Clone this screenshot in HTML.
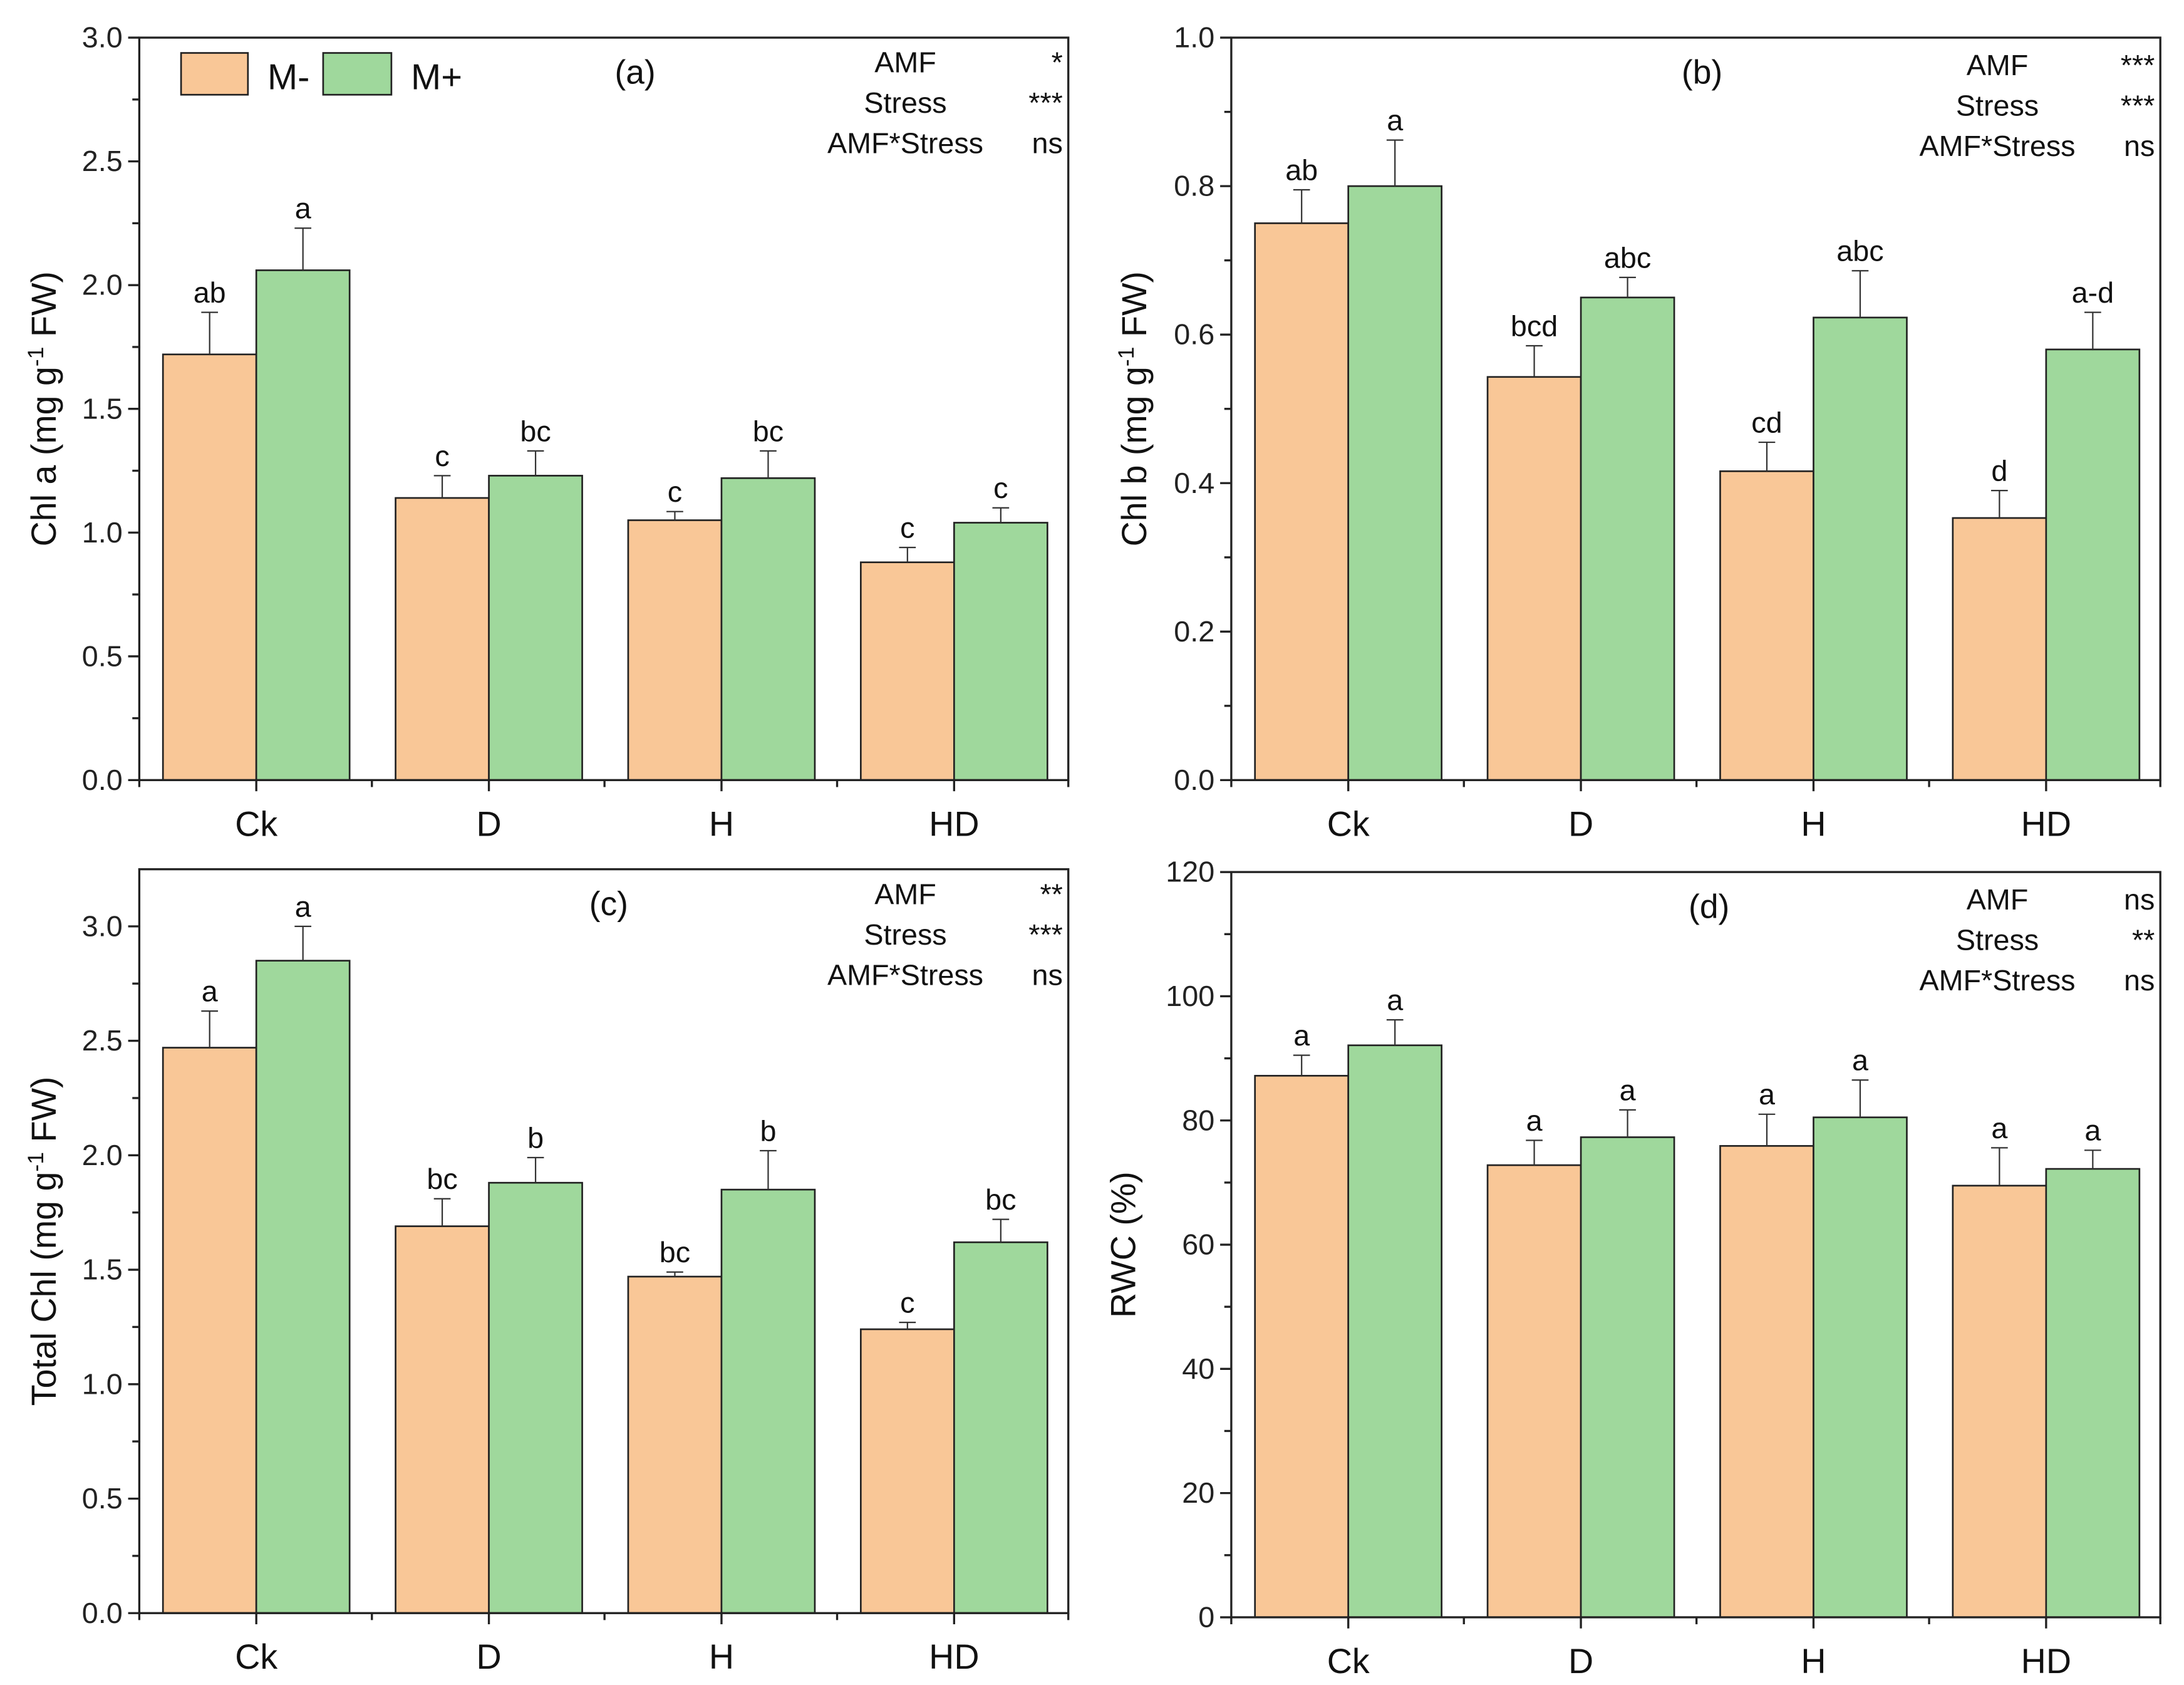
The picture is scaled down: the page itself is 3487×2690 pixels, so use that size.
<!DOCTYPE html>
<html><head><meta charset="utf-8"><style>html,body{margin:0;padding:0;background:#fff}svg{display:block}</style></head>
<body>
<svg id="fig" xmlns="http://www.w3.org/2000/svg" width="3487" height="2690" viewBox="0 0 1568 1209.6" font-family="Liberation Sans, Arial, sans-serif"></svg>
<script>
const categories = ["Ck","D","H","HD"];
const aMinus = [1.72,1.14,1.05,0.88];
const aMinusErr = [0.17,0.09,0.035,0.06];
const aPlus = [2.06,1.23,1.22,1.04];
const aPlusErr = [0.17,0.10,0.11,0.06];
const aMinusLetters = ["ab","c","c","c"];
const aPlusLetters = ["a","bc","bc","c"];
const bMinus = [0.75,0.543,0.416,0.353];
const bMinusErr = [0.045,0.042,0.039,0.037];
const bPlus = [0.80,0.65,0.623,0.58];
const bPlusErr = [0.062,0.027,0.063,0.05];
const bMinusLetters = ["ab","bcd","cd","d"];
const bPlusLetters = ["a","abc","abc","a-d"];
const cMinus = [2.47,1.69,1.47,1.24];
const cMinusErr = [0.16,0.12,0.02,0.03];
const cPlus = [2.85,1.88,1.85,1.62];
const cPlusErr = [0.15,0.11,0.17,0.10];
const cMinusLetters = ["a","bc","bc","c"];
const cPlusLetters = ["a","b","b","bc"];
const dMinus = [87.2,72.8,75.9,69.5];
const dMinusErr = [3.3,4.0,5.1,6.1];
const dPlus = [92.1,77.3,80.5,72.2];
const dPlusErr = [4.1,4.4,6.0,3.0];
const dMinusLetters = ["a","a","a","a"];
const dPlusLetters = ["a","a","a","a"];
const aTicks = ["0.0","0.5","1.0","1.5","2.0","2.5","3.0"];
const bTicks = ["0.0","0.2","0.4","0.6","0.8","1.0"];
const cTicks = ["0.0","0.5","1.0","1.5","2.0","2.5","3.0"];
const dTicks = ["0","20","40","60","80","100","120"];
const aStats = ["*","***","ns"];
const bStats = ["***","***","ns"];
const cStats = ["**","***","ns"];
const dStats = ["ns","**","ns"];

const NS="http://www.w3.org/2000/svg";
const svg=document.getElementById('fig');
function mk(tag,attrs,parent,text){const e=document.createElementNS(NS,tag);for(const k in attrs)e.setAttribute(k,attrs[k]);if(text!==undefined)e.textContent=text;(parent||svg).appendChild(e);return e;}

function panel(o){
  const g=mk('g',{});
  
  
  const L=o.left,R=o.left+667,T=o.top,B=o.bottom;
  const yy=v=>B+(o.y1-B)*(v/o.tickMax);
  const step=167;
  const cx=i=>L+84+i*step;
  const bw=67;
  for(let i=0;i<categories.length;i++){
    [[o.minus,o.minusErr,o.minusLetters,'#f9c797',-bw,'m-minus'],[o.plus,o.plusErr,o.plusLetters,'#9fd89c',0,'m-plus']].forEach(s=>{
      const v=s[0][i],e=s[1][i];
      const x0=cx(i)+s[4];
      const r=mk('rect',{x:x0,y:yy(v),width:bw,height:B-yy(v),fill:s[3],stroke:'#222','stroke-width':1.2},g);
      
      
      const xc=x0+bw/2;
      const el=mk('path',{d:`M${xc},${yy(v)}V${yy(v+e)}M${xc-6},${yy(v+e)}H${xc+6}`,stroke:'#333','stroke-width':1,fill:'none'},g);
      
      
      const t=mk('text',{x:xc,y:yy(v+e)-7,'font-size':21,'text-anchor':'middle',fill:'#111'},g,s[2][i]);
      
      
    });
  }
  const ax=mk('rect',{x:L,y:T,width:R-L,height:B-T,fill:'none',stroke:'#222','stroke-width':1.5},g);
  
  
  const n=o.ticks.length;
  for(let k=0;k<n;k++){
    const v=o.tickMax*k/(n-1);
    const py=yy(v);
    mk('line',{x1:L-8,x2:L,y1:py,y2:py,stroke:'#222','stroke-width':1.5},g);
    const t=mk('text',{x:L-12,y:py+7,'font-size':21,'text-anchor':'end',fill:'#222'},g,o.ticks[k]);
    
    
    const mv=v+o.tickMax/(n-1)/2;
    if(yy(mv)>T) mk('line',{x1:L-5,x2:L,y1:yy(mv),y2:yy(mv),stroke:'#222','stroke-width':1.5},g);
  }
  for(let i=0;i<categories.length;i++){
    mk('line',{x1:cx(i),x2:cx(i),y1:B,y2:B+8,stroke:'#222','stroke-width':1.5},g);
    mk('line',{x1:cx(i)-84,x2:cx(i)-84,y1:B,y2:B+5,stroke:'#222','stroke-width':1.5},g);
    const t=mk('text',{x:cx(i),y:B+40,'font-size':25,'text-anchor':'middle',fill:'#111'},g,categories[i]);
    
    
  }
  mk('line',{x1:R,x2:R,y1:B,y2:B+5,stroke:'#222','stroke-width':1.5},g);
  const tx=o.titleX, ty=(T+B)/2;
  const yt=mk('text',{x:tx,y:ty,'font-size':25,'text-anchor':'middle',transform:`rotate(-90 ${tx} ${ty})`,fill:'#111'},g);
  
  
  if(o.unit){
    mk('tspan',{},yt,o.title+' (mg g');
    mk('tspan',{dy:-9,'font-size':16},yt,'-1');
    mk('tspan',{dy:9},yt,' FW)');
  } else yt.textContent=o.title;
  const pl=mk('text',{x:o.labelX,y:T+33,'font-size':24,'text-anchor':'middle',fill:'#111'},g,'('+o.id+')');
  
  
  const names=['AMF','Stress','AMF*Stress'];
  for(let r=0;r<3;r++){
    const sy=T+o.statsY+r*29;
    const a=mk('text',{x:R-117,y:sy,'font-size':21,'text-anchor':'middle',fill:'#111'},g,names[r]);
    
    
    const b=mk('text',{x:R-4,y:sy,'font-size':21,'text-anchor':'end',fill:'#111'},g,o.stats[r]);
    
    
  }
  return g;
}

panel({id:'a',left:100,top:27,bottom:560,y1:27,tickMax:3,ticks:aTicks,minus:aMinus,minusErr:aMinusErr,plus:aPlus,plusErr:aPlusErr,minusLetters:aMinusLetters,plusLetters:aPlusLetters,titleX:40,title:'Chl a',unit:true,labelX:456,stats:aStats,statsY:25});
panel({id:'b',left:884,top:27,bottom:560,y1:27,tickMax:1,ticks:bTicks,minus:bMinus,minusErr:bMinusErr,plus:bPlus,plusErr:bPlusErr,minusLetters:bMinusLetters,plusLetters:bPlusLetters,titleX:823,title:'Chl b',unit:true,labelX:1222,stats:bStats,statsY:27});
panel({id:'c',left:100,top:624,bottom:1158,y1:665,tickMax:3,ticks:cTicks,minus:cMinus,minusErr:cMinusErr,plus:cPlus,plusErr:cPlusErr,minusLetters:cMinusLetters,plusLetters:cPlusLetters,titleX:40,title:'Total Chl',unit:true,labelX:437,stats:cStats,statsY:25});
panel({id:'d',left:884,top:626,bottom:1161,y1:626,tickMax:120,ticks:dTicks,minus:dMinus,minusErr:dMinusErr,plus:dPlus,plusErr:dPlusErr,minusLetters:dMinusLetters,plusLetters:dPlusLetters,titleX:815,title:'RWC (%)',unit:false,labelX:1227,stats:dStats,statsY:27});

const lg=mk('g',{});


const l1=mk('rect',{x:130,y:38,width:48,height:30,fill:'#f9c797',stroke:'#222','stroke-width':1.2},lg);


const l1t=mk('text',{x:192,y:64,'font-size':26,fill:'#111'},lg,'M-');


const l2=mk('rect',{x:232,y:38,width:49,height:30,fill:'#9fd89c',stroke:'#222','stroke-width':1.2},lg);


const l2t=mk('text',{x:295,y:64,'font-size':26,fill:'#111'},lg,'M+');


</script>
</body></html>
